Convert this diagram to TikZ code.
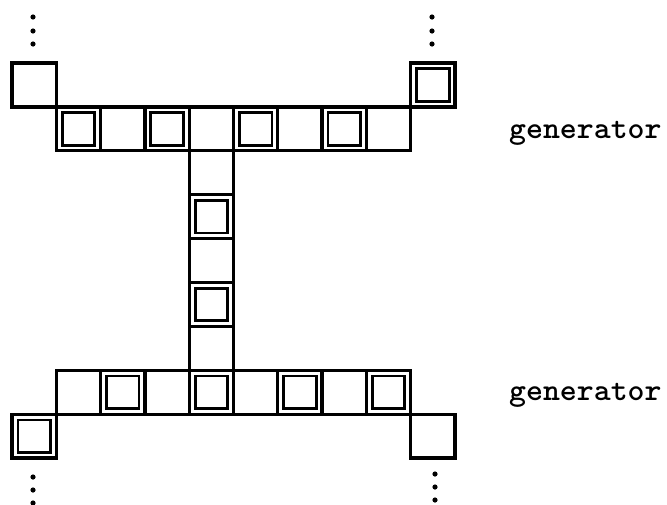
\documentclass[tikz,border=0pt]{standalone}
\usepackage{fontspec}
\begin{document}
\begin{tikzpicture}[x=1pt,y=-1pt,
  cell/.style={draw, line width=3.3pt, minimum width=44.3pt, minimum height=43.9pt, inner sep=0pt, outer sep=0pt},
  dcell/.style={cell, label={[draw, line width=2.8pt, minimum size=32.5pt, inner sep=0pt, outer sep=0pt]center:{}}},
  lab/.style={font=\ttfamily\bfseries\fontsize{31}{33}\selectfont, anchor=base west, inner sep=0pt},
  dot/.style={fill=black}]
\useasboundingbox (0,0) rectangle (667,504);
% top corners
\node[cell]  (tl) at ({12+44.3*0.5},{63+43.9*0.5}) {};
\node[dcell] (tr) at ({12+44.3*9.5},{63+43.9*0.5}) {};
% top row (row 1)
\foreach \i in {1,...,8}{
  \pgfmathtruncatemacro{\odd}{mod(\i,2)}
  \ifnum\odd=1
    \node[dcell] (t\i) at ({12+44.3*(\i+0.5)},{63+43.9*1.5}) {};
  \else
    \node[cell] (t\i) at ({12+44.3*(\i+0.5)},{63+43.9*1.5}) {};
  \fi
}
% vertical column (rows 2..6)
\foreach \j in {2,...,6}{
  \pgfmathtruncatemacro{\odd}{mod(\j,2)}
  \ifnum\odd=1
    \node[dcell] (v\j) at ({12+44.3*4.5},{63+43.9*(\j+0.5)}) {};
  \else
    \node[cell] (v\j) at ({12+44.3*4.5},{63+43.9*(\j+0.5)}) {};
  \fi
}
% bottom row (row 7)
\foreach \i in {1,...,8}{
  \pgfmathtruncatemacro{\odd}{mod(\i,2)}
  \ifnum\odd=0
    \node[dcell] (b\i) at ({12+44.3*(\i+0.5)},{63+43.9*7.5}) {};
  \else
    \node[cell] (b\i) at ({12+44.3*(\i+0.5)},{63+43.9*7.5}) {};
  \fi
}
% bottom corners
\node[dcell] (bl) at ({12+44.3*0.5},{63+43.9*8.5}) {};
\node[cell]  (br) at ({12+44.3*9.5},{63+43.9*8.5}) {};
% dots
\foreach \y in {17,31,44}{
  \fill[dot] (33,\y) circle[radius=2.6pt];
  \fill[dot] (432,\y) circle[radius=2.6pt];
}
\foreach \y in {477,490,503}{
  \fill[dot] (33,\y) circle[radius=2.6pt];
}
\foreach \y in {474,487,500}{
  \fill[dot] (435,\y) circle[radius=2.6pt];
}
% labels
\node[lab] (g1) at (509,138) {\scalebox{1.04}[1]{generator}};
\node[lab] (g2) at (509,400) {\scalebox{1.04}[1]{generator}};
\end{tikzpicture}
\end{document}
